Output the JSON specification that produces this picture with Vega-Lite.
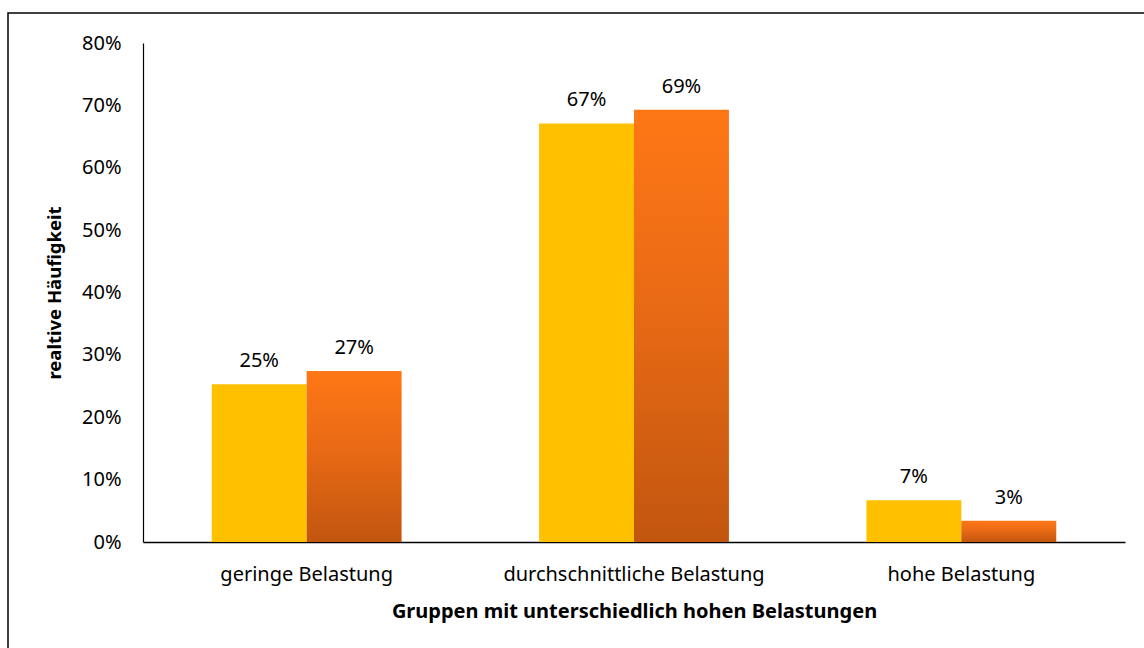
{
  "$schema": "https://vega.github.io/schema/vega-lite/v6.json",
  "width": 1140,
  "height": 640,
  "autosize": {"type": "none"},
  "padding": {"left": 8, "top": 13, "right": 0, "bottom": 0},
  "background": "white",
  "config": {
    "view": {"stroke": "#000000", "strokeWidth": 1.5},
    "font": "Noto Sans",
    "axis": {"labelFont": "Noto Sans", "titleFont": "Noto Sans", "labelColor": "#000000", "titleColor": "#000000"}
  },
  "data": {
    "values": [
      {"category": "geringe Belastung", "series": "A", "value": 0.253},
      {"category": "geringe Belastung", "series": "B", "value": 0.274},
      {"category": "durchschnittliche Belastung", "series": "A", "value": 0.671},
      {"category": "durchschnittliche Belastung", "series": "B", "value": 0.693},
      {"category": "hohe Belastung", "series": "A", "value": 0.067},
      {"category": "hohe Belastung", "series": "B", "value": 0.034}
    ]
  },
  "encoding": {
    "x": {
      "field": "category",
      "type": "nominal",
      "sort": ["geringe Belastung", "durchschnittliche Belastung", "hohe Belastung"],
      "scale": {"range": [135, 1117], "paddingInner": 0.42, "paddingOuter": 0.21},
      "axis": {
        "title": "Gruppen mit unterschiedlich hohen Belastungen",
        "titleFontWeight": "bold",
        "titleFontSize": 20,
        "titlePadding": 17,
        "labelAngle": 0,
        "labelFontSize": 20,
        "labelLimit": 400,
        "labelPadding": 22,
        "ticks": false,
        "domainColor": "#000000",
        "domainWidth": 1.5,
        "offset": -111
      }
    },
    "xOffset": {"field": "series", "type": "nominal", "sort": ["A", "B"]},
    "y": {
      "field": "value",
      "type": "quantitative",
      "scale": {"domain": [0, 0.8], "range": [529, 30], "nice": false},
      "axis": {
        "title": "realtive Häufigkeit",
        "titleFontWeight": "bold",
        "titleFontSize": 18.5,
        "titlePadding": 17,
        "format": ".0%",
        "values": [0, 0.1, 0.2, 0.3, 0.4, 0.5, 0.6, 0.7, 0.8],
        "labelFontSize": 20,
        "labelPadding": 22,
        "ticks": false,
        "grid": false,
        "domainColor": "#000000",
        "domainWidth": 1.2,
        "offset": -135
      }
    }
  },
  "layer": [
    {
      "transform": [{"filter": "datum.series === 'A'"}],
      "mark": {"type": "bar", "color": "#FFC000"}
    },
    {
      "transform": [{"filter": "datum.series === 'B'"}],
      "mark": {
        "type": "bar",
        "color": {
          "gradient": "linear",
          "x1": 0, "y1": 0, "x2": 0, "y2": 1,
          "stops": [
            {"offset": 0, "color": "#FF7716"},
            {"offset": 0.45, "color": "#E96A15"},
            {"offset": 1, "color": "#C2560F"}
          ]
        }
      }
    },
    {
      "mark": {"type": "text", "baseline": "bottom", "dy": -13, "fontSize": 20, "color": "#000000"},
      "encoding": {
        "text": {"field": "value", "type": "quantitative", "format": ".0%"}
      }
    }
  ]
}
